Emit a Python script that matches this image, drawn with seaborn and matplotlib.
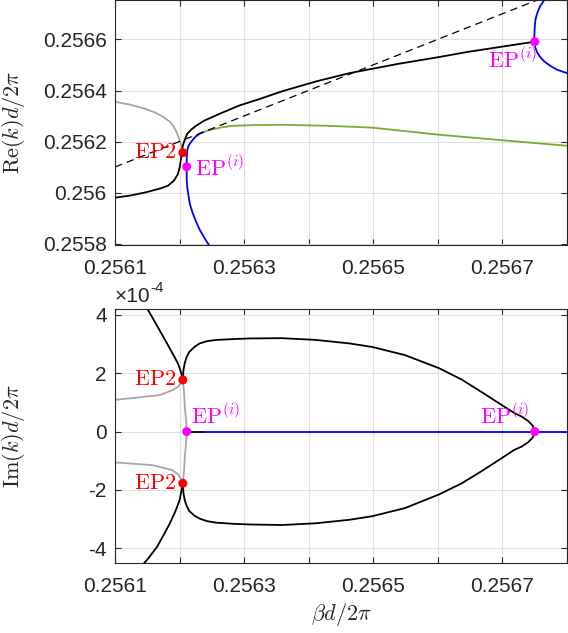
import numpy as np
import matplotlib
matplotlib.use('Agg')
import matplotlib.pyplot as plt
import seaborn as sns

# ---- Re(k) panel (top) ----
re_black_x = [0.256100, 0.256123, 0.256146, 0.256169, 0.256182, 0.256191, 0.256197,
              0.256200, 0.256202, 0.256203, 0.256205, 0.256208, 0.256212, 0.256218,
              0.256226, 0.256238, 0.256262, 0.256292, 0.256323, 0.256360, 0.256412,
              0.256463, 0.256538, 0.256602, 0.256646, 0.256698, 0.256750]
re_black_y = [0.255981, 0.255989, 0.256001, 0.256016, 0.256028, 0.256047, 0.256071,
              0.256098, 0.256130, 0.256161, 0.256184, 0.256208, 0.256231, 0.256247,
              0.256263, 0.256282, 0.256309, 0.256341, 0.256366, 0.256398, 0.256436,
              0.256468, 0.256504, 0.256531, 0.256551, 0.256571, 0.256591]

re_gray_x = [0.256100, 0.256123, 0.256146, 0.256162, 0.256174, 0.256185, 0.256191,
             0.256195, 0.256198, 0.256202, 0.256203, 0.256205]
re_gray_y = [0.256356, 0.256345, 0.256329, 0.256314, 0.256298, 0.256278, 0.256259,
             0.256239, 0.256220, 0.256192, 0.256177, 0.256161]

re_blue_left_x = [0.256250, 0.256245, 0.256238, 0.256231, 0.256225, 0.256220, 0.256216,
                  0.256214, 0.256212, 0.256211, 0.256211, 0.256211, 0.256212, 0.256214,
                  0.256217, 0.256221, 0.256225, 0.256231, 0.256238]
re_blue_left_y = [0.255780, 0.255797, 0.255826, 0.255856, 0.255890, 0.255923, 0.255955,
                  0.255985, 0.256020, 0.256051, 0.256102, 0.256137, 0.256169, 0.256184,
                  0.256196, 0.256209, 0.256220, 0.256231, 0.256239]

re_blue_right_x = [0.256770, 0.256765, 0.256758, 0.256754, 0.256751, 0.256750, 0.256749,
                   0.256751, 0.256754, 0.256759, 0.256765, 0.256775, 0.256785, 0.256800]
re_blue_right_y = [0.256790, 0.256755, 0.256728, 0.256704, 0.256676, 0.256649, 0.256591,
                   0.256567, 0.256548, 0.256529, 0.256513, 0.256495, 0.256481, 0.256468]

re_green_x = [0.256238, 0.256246, 0.256254, 0.256268, 0.256282, 0.256320, 0.256360,
              0.256430, 0.256498, 0.256550, 0.256602, 0.256698, 0.256800]
re_green_y = [0.256239, 0.256245, 0.256250, 0.256257, 0.256262, 0.256265, 0.256266,
              0.256262, 0.256255, 0.256241, 0.256227, 0.256206, 0.256184]

re_dash_x = [0.256100, 0.256800]
re_dash_y = [0.256101, 0.256800]

ep2_re = (0.256205, 0.256157)
epi_left_re = (0.256211, 0.256102)
epi_right_re = (0.256750, 0.256591)

# ---- Im(k) panel (bottom), values in units of 1e-4 ----
im_black_ul_x = [0.256146, 0.256151, 0.256158, 0.256166, 0.256174, 0.256180, 0.256186,
                 0.256192, 0.256197, 0.256200, 0.256203, 0.256205]
im_black_ul_y = [4.41, 4.17, 3.90, 3.59, 3.28, 3.04, 2.80, 2.56, 2.35, 2.18, 1.97, 1.77]

im_black_ll_x = [0.256205, 0.256203, 0.256200, 0.256194, 0.256185, 0.256175, 0.256165,
                 0.256152, 0.256143, 0.256134]
im_black_ll_y = [-1.77, -2.01, -2.35, -2.70, -3.14, -3.55, -3.95, -4.33, -4.56, -4.79]

im_loop_x = [0.256205, 0.256206, 0.256208, 0.256211, 0.256215, 0.256223, 0.256231,
             0.256243, 0.256257, 0.256285, 0.256308, 0.256358, 0.256411, 0.256463,
             0.256498, 0.256549, 0.256602, 0.256637, 0.256668, 0.256694, 0.256718,
             0.256730, 0.256740, 0.256747, 0.256750]
im_loop_up_y = [1.77, 2.11, 2.35, 2.56, 2.73, 2.90, 3.02, 3.10, 3.14, 3.17, 3.19, 3.20,
                3.14, 3.02, 2.90, 2.62, 2.17, 1.78, 1.35, 0.98, 0.64, 0.51, 0.36, 0.20,
                0.0]
im_loop_lo_y = [-1.77, -2.11, -2.35, -2.55, -2.72, -2.88, -2.98, -3.07, -3.12, -3.16,
                -3.18, -3.20, -3.14, -3.02, -2.90, -2.62, -2.15, -1.77, -1.35, -0.98,
                -0.63, -0.51, -0.36, -0.20, 0.0]

im_gray_up_x = [0.256097, 0.256128, 0.256169, 0.256189, 0.256197, 0.256201, 0.256205]
im_gray_up_y = [1.08, 1.15, 1.25, 1.42, 1.53, 1.63, 1.77]
im_gray_lo_x = [0.256097, 0.256158, 0.256189, 0.256198, 0.256202, 0.256205]
im_gray_lo_y = [-1.05, -1.15, -1.32, -1.47, -1.62, -1.77]
im_gray_mid_x = [0.256205, 0.256207, 0.256208, 0.256210, 0.256211, 0.256210, 0.256208,
                 0.256207, 0.256205]
im_gray_mid_y = [1.77, 1.30, 0.84, 0.42, 0.0, -0.43, -0.86, -1.31, -1.77]

im_black_zero_x = [0.256211, 0.256238]
im_blue_zero_x = [0.256238, 0.256800]

ep2_im = [(0.256205, 1.77), (0.256205, -1.77)]
epi_left_im = (0.256211, 0.0)
epi_right_im = (0.256750, 0.0)

x_ticks = [0.2561, 0.2562, 0.2563, 0.2564, 0.2565, 0.2566, 0.2567, 0.2568]
x_ticklabels = ['0.2561', '', '0.2563', '', '0.2565', '', '0.2567', '']
re_ticks = [0.2558, 0.2560, 0.2562, 0.2564, 0.2566]
re_ticklabels = ['0.2558', '0.256', '0.2562', '0.2564', '0.2566']
im_ticks = [-4, -2, 0, 2, 4]
im_ticklabels = ['-4', '-2', '0', '2', '4']

GRAY = '#a6a6a6'
BLUE = '#0000ff'
GREEN = '#77ac30'
RED = '#ff0000'
MAGENTA = '#ff00ff'
DARK = '#262626'

sns.set_theme(style='ticks')
plt.rcParams['font.family'] = ['Liberation Sans', 'DejaVu Sans']
plt.rcParams['mathtext.fontset'] = 'cm'


def curve(ax, xs, ys, color, lw=1.3, **kw):
    sns.lineplot(x=xs, y=ys, sort=False, estimator=None, color=color, lw=lw,
                 ax=ax, **kw)


def points(ax, xs, ys, color, s=42):
    sns.scatterplot(x=xs, y=ys, color=color, s=s, edgecolor='none', zorder=6,
                    ax=ax, legend=False)


def style_axes(ax):
    ax.grid(True, color='#e0e0e0', lw=0.8)
    ax.set_axisbelow(True)
    for sp in ax.spines.values():
        sp.set_color(DARK)
        sp.set_linewidth(0.8)
    ax.tick_params(direction='in', length=4, width=0.8, top=True, right=True,
                   colors=DARK, labelsize=15)
    ax.tick_params(axis='x', pad=10)
    ax.tick_params(axis='y', pad=6)
    ax.set_xlim(0.2561, 0.2568)
    ax.set_xticks(x_ticks)
    ax.set_xticklabels(x_ticklabels)


fig = plt.figure(figsize=(5.68, 6.33), dpi=100)
ax1 = fig.add_axes([0.2025, 0.6130, 0.7958, 0.3870])
ax2 = fig.add_axes([0.2025, 0.1106, 0.7958, 0.4013])

# top panel
curve(ax1, re_gray_x, re_gray_y, GRAY)
curve(ax1, re_black_x, re_black_y, 'black')
curve(ax1, re_blue_left_x, re_blue_left_y, BLUE)
curve(ax1, re_blue_right_x, re_blue_right_y, BLUE)
curve(ax1, re_green_x, re_green_y, GREEN)
curve(ax1, re_dash_x, re_dash_y, 'black', lw=0.9, linestyle=(0, (6, 4)))
points(ax1, [ep2_re[0]], [ep2_re[1]], RED)
points(ax1, [epi_left_re[0], epi_right_re[0]], [epi_left_re[1], epi_right_re[1]], MAGENTA)

style_axes(ax1)
ax1.set_ylim(0.255796, 0.256754)
ax1.set_yticks(re_ticks)
ax1.set_yticklabels(re_ticklabels)
ax1.set_ylabel(r'$\mathrm{Re}(k)d/2\pi$', fontsize=16, color=DARK)
ax1.yaxis.set_label_coords(-0.195, 0.5)
ax1.set_xlabel('')

lab = dict(textcoords='offset pixels', fontsize=16)
ax1.annotate(r'$\mathrm{EP2}$', xy=ep2_re, xytext=(-7, 0), color=RED,
             ha='right', va='center', **lab)
ax1.annotate(r'$\mathrm{EP}^{(i)}$', xy=epi_left_re, xytext=(8, -2), color=MAGENTA,
             ha='left', va='center', **lab)
ax1.annotate(r'$\mathrm{EP}^{(i)}$', xy=epi_right_re, xytext=(2, -7), color=MAGENTA,
             ha='right', va='top', **lab)

# bottom panel
curve(ax2, im_gray_up_x, im_gray_up_y, GRAY)
curve(ax2, im_gray_lo_x, im_gray_lo_y, GRAY)
curve(ax2, im_gray_mid_x, im_gray_mid_y, GRAY)
curve(ax2, im_black_ul_x, im_black_ul_y, 'black')
curve(ax2, im_black_ll_x, im_black_ll_y, 'black')
curve(ax2, im_loop_x, im_loop_up_y, 'black')
curve(ax2, im_loop_x, im_loop_lo_y, 'black')
curve(ax2, im_black_zero_x, [0, 0], 'black')
curve(ax2, im_blue_zero_x, [0, 0], BLUE)
points(ax2, [p[0] for p in ep2_im], [p[1] for p in ep2_im], RED)
points(ax2, [epi_left_im[0], epi_right_im[0]], [epi_left_im[1], epi_right_im[1]], MAGENTA)

style_axes(ax2)
ax2.set_ylim(-4.5, 4.2)
ax2.set_yticks(im_ticks)
ax2.set_yticklabels(im_ticklabels)
ax2.set_ylabel(r'$\mathrm{Im}(k)d/2\pi$', fontsize=16, color=DARK)
ax2.yaxis.set_label_coords(-0.195, 0.5)
ax2.set_xlabel(r'$\beta d/2\pi$', fontsize=16, color=DARK)
ax2.xaxis.set_label_coords(0.5, -0.15)

for y in ep2_im:
    ax2.annotate(r'$\mathrm{EP2}$', xy=y, xytext=(-7, 0), color=RED,
                 ha='right', va='center', **lab)
ax2.annotate(r'$\mathrm{EP}^{(i)}$', xy=epi_left_im, xytext=(4, 3), color=MAGENTA,
             ha='left', va='bottom', **lab)
ax2.annotate(r'$\mathrm{EP}^{(i)}$', xy=epi_right_im, xytext=(-6, 3), color=MAGENTA,
             ha='right', va='bottom', **lab)

t = ax2.text(0.0, 1.012, '\u00d710', transform=ax2.transAxes, fontsize=15,
             color=DARK, ha='left', va='bottom')
ax2.annotate('-4', xy=(1, 0.55), xycoords=t, fontsize=11, color=DARK,
             ha='left', va='bottom')

fig.savefig('out.png', dpi=100)
